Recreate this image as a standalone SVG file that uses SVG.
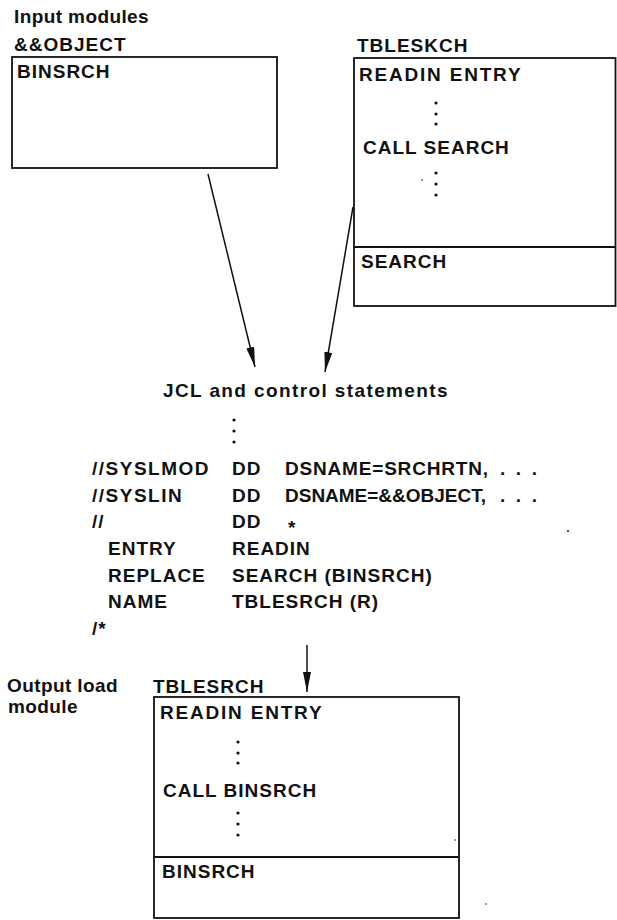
<svg xmlns="http://www.w3.org/2000/svg" width="617" height="920" viewBox="0 0 617 920">
<style>
  text { font-family: "Liberation Sans", Arial, Helvetica, sans-serif; font-size: 19px; font-weight: bold; fill: #111; letter-spacing: 1px; }
  .lc { letter-spacing: 0.4px; }
  .wide { letter-spacing: 1.8px; }
  .fit { letter-spacing: 0px; }
  .box { fill: none; stroke: #111; stroke-width: 1.8; }
  .div { stroke: #111; stroke-width: 1.8; }
  .conn { stroke: #111; stroke-width: 1.5; fill: none; }
  .dot { fill: #111; }
</style>
<defs>
  <marker id="ah" markerUnits="userSpaceOnUse" viewBox="0 0 20 8" refX="20" refY="4" markerWidth="20" markerHeight="8" orient="auto">
    <path d="M0,0 L20,4 L0,8 z" fill="#111"/>
  </marker>
</defs>

<g id="label-input">
  <text class="lc" x="14" y="23">Input modules</text>
</g>

<g id="node-object">
  <text x="14" y="51">&amp;&amp;OBJECT</text>
  <rect class="box" x="12" y="57" width="265" height="111"/>
  <text x="17" y="78">BINSRCH</text>
</g>

<g id="node-tbleskch">
  <text x="357" y="52">TBLESKCH</text>
  <rect class="box" x="354" y="58" width="261.5" height="248"/>
  <line class="div" x1="354" y1="247" x2="615.5" y2="247"/>
  <text class="wide" x="359" y="81">READIN ENTRY</text>
  <circle class="dot" cx="436" cy="103" r="1.6"/>
  <circle class="dot" cx="436" cy="114" r="1.6"/>
  <circle class="dot" cx="436" cy="124" r="1.6"/>
  <text x="363" y="154">CALL SEARCH</text>
  <circle class="dot" cx="422" cy="180" r="0.8"/>
  <circle class="dot" cx="436" cy="173" r="1.6"/>
  <circle class="dot" cx="436" cy="184" r="1.6"/>
  <circle class="dot" cx="436" cy="195" r="1.6"/>
  <text x="361" y="268">SEARCH</text>
</g>

<g id="node-jcl">
  <text class="lc" x="163" y="397" textLength="285" lengthAdjust="spacing">JCL and control statements</text>
  <circle class="dot" cx="234" cy="420" r="1.6"/>
  <circle class="dot" cx="234" cy="431" r="1.6"/>
  <circle class="dot" cx="234" cy="442" r="1.6"/>
  <text x="92" y="475" style="letter-spacing:1.5px">//SYSLMOD</text>
  <text x="232" y="475">DD</text>
  <text class="fit" x="285" y="475" textLength="203" lengthAdjust="spacing">DSNAME=SRCHRTN,</text>
  <text class="fit" x="500" y="475" textLength="37" lengthAdjust="spacing">. . .</text>
  <text x="92" y="502" style="letter-spacing:1.5px">//SYSLIN</text>
  <text x="232" y="502">DD</text>
  <text class="fit" x="285" y="502" textLength="201" lengthAdjust="spacingAndGlyphs">DSNAME=&amp;&amp;OBJECT,</text>
  <text class="fit" x="500" y="502" textLength="37" lengthAdjust="spacing">. . .</text>
  <text x="92" y="528">//</text>
  <text x="232" y="528">DD</text>
  <text x="288" y="534">*</text>
  <text x="108" y="555">ENTRY</text>
  <text x="232" y="555">READIN</text>
  <text x="108" y="582">REPLACE</text>
  <text x="232" y="582">SEARCH (BINSRCH)</text>
  <text x="108" y="608">NAME</text>
  <text x="232" y="608">TBLESRCH (R)</text>
  <text x="92" y="635">/*</text>
  <circle class="dot" cx="568" cy="531" r="1"/>
</g>

<g id="label-output">
  <text class="lc" x="7" y="692">Output load</text>
  <text class="lc" x="8" y="713">module</text>
</g>

<g id="node-tblesrch">
  <text x="153" y="693">TBLESRCH</text>
  <rect class="box" x="154" y="697" width="305" height="221"/>
  <line class="div" x1="154" y1="857" x2="459" y2="857"/>
  <text class="wide" x="160" y="719">READIN ENTRY</text>
  <circle class="dot" cx="238" cy="742" r="1.6"/>
  <circle class="dot" cx="238" cy="753" r="1.6"/>
  <circle class="dot" cx="238" cy="763" r="1.6"/>
  <text x="163" y="797">CALL BINSRCH</text>
  <circle class="dot" cx="238" cy="813" r="1.6"/>
  <circle class="dot" cx="238" cy="824" r="1.6"/>
  <circle class="dot" cx="238" cy="835" r="1.6"/>
  <circle class="dot" cx="455" cy="840" r="0.8"/>
  <text x="162" y="878">BINSRCH</text>
  <circle class="dot" cx="486" cy="904" r="0.8"/>
</g>

<g id="connectors">
  <line class="conn" x1="208" y1="174" x2="255" y2="367" marker-end="url(#ah)"/>
  <line class="conn" x1="353" y1="207" x2="325" y2="372" marker-end="url(#ah)"/>
  <line class="conn" x1="307" y1="645" x2="307" y2="692" marker-end="url(#ah)"/>
</g>
</svg>
